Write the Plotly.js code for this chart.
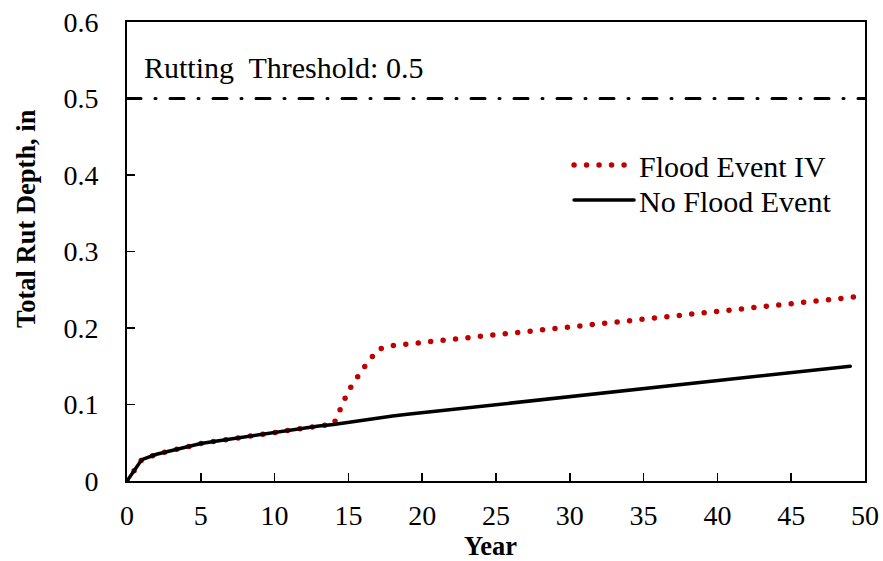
<!DOCTYPE html>
<html>
<head>
<meta charset="utf-8">
<script src="https://cdn.plot.ly/plotly-3.0.1.min.js"></script>
<style>
  html, body { margin: 0; padding: 0; background: #fff; }
  #chart { width: 883px; height: 561px; }
  .js-line { stroke-linecap: round !important; }
</style>
</head>
<body>
<div id="chart"></div>
<script>
// ---- Data ----
const floodYears = [0,1,2,3,4,5,6,7,8,9,10,11,12,13,14,15,16,17,18,19,20,21,22,23,24,25,26,27,28,29,30,31,32,33,34,35,36,37,38,39,40,41,42,43,44,45,46,47,48,49,50];
const floodDepth = [0,0.028,0.035,0.040,0.045,0.049,0.052,0.055,0.058,0.061,0.064,0.067,0.069,0.072,0.074,0.118,0.147,0.172,0.1770,0.1790,0.1811,0.1831,0.1851,0.1872,0.1892,0.1912,0.1932,0.1953,0.1973,0.1993,0.2014,0.2034,0.2054,0.2075,0.2095,0.2115,0.2135,0.2156,0.2176,0.2196,0.2217,0.2237,0.2257,0.2278,0.2298,0.2318,0.2338,0.2359,0.2379,0.2399,0.2420];

const noFloodYears = [0,1,2,3,4,5,6,7,8,9,10,11,12,13,14,15,16,17,18,19,20,21,22,23,24,25,26,27,28,29,30,31,32,33,34,35,36,37,38,39,40,41,42,43,44,45,46,47,48,49];
const noFloodDepth = [0,0.028,0.035,0.040,0.045,0.049,0.052,0.055,0.058,0.061,0.064,0.067,0.069,0.072,0.074,0.077,0.079,0.0830,0.0851,0.0872,0.0893,0.0914,0.0935,0.0956,0.0977,0.0998,0.1019,0.1040,0.1061,0.1082,0.1103,0.1124,0.1145,0.1166,0.1187,0.1208,0.1229,0.1250,0.1271,0.1292,0.1313,0.1334,0.1355,0.1376,0.1397,0.1418,0.1439,0.1460,0.1481,0.1500];

const thresholdYears = [0, 50];
const thresholdDepth = [0.5, 0.5];

const seriesNames = ["Flood Event IV", "No Flood Event"];
const thresholdLabel = "Rutting\u00a0 Threshold: 0.5";
const xTickVals = [0,5,10,15,20,25,30,35,40,45,50];
const xTickText = ["0","5","10","15","20","25","30","35","40","45","50"];
const yTickVals = [0,0.1,0.2,0.3,0.4,0.5,0.6];
const yTickText = ["0","0.1","0.2","0.3","0.4","0.5","0.6"];
const xTitle = "Year";
const yTitle = "Total Rut Depth, in";

const FONT = '"Liberation Serif", "Times New Roman", Times, serif';

const traces = [
  {
    x: floodYears, y: floodDepth, name: seriesNames[0], type: "scatter", mode: "lines",
    legend: "legend",
    line: { color: "#C00000", width: 5.5, dash: "0px,12.5px" }
  },
  {
    x: noFloodYears, y: noFloodDepth, name: seriesNames[1], type: "scatter", mode: "lines",
    legend: "legend2",
    line: { color: "#000000", width: 3.5 }
  },
  {
    x: thresholdYears, y: thresholdDepth, name: "Threshold", type: "scatter", mode: "lines",
    showlegend: false, hoverinfo: "skip",
    line: { color: "#000000", width: 3, dash: "14px,14px,1px,14px" }
  }
];

const legendCommon = {
  xanchor: "left", yanchor: "middle",
  bgcolor: "rgba(0,0,0,0)", borderwidth: 0,
  font: { family: FONT, size: 30, color: "#000" },
  itemwidth: 60
};

const layout = {
  width: 883, height: 561,
  margin: { l: 127, r: 18, t: 22, b: 80 },
  paper_bgcolor: "#fff", plot_bgcolor: "#fff",
  font: { family: FONT, size: 28, color: "#000" },
  showlegend: true,
  legend: Object.assign({}, legendCommon, { x: 0.599, y: 0.6885 }),
  legend2: Object.assign({}, legendCommon, { x: 0.599, y: 0.6122 }),
  xaxis: {
    range: [0, 50], tickmode: "array", tickvals: xTickVals, ticktext: xTickText,
    ticks: "inside", ticklen: 8, tickwidth: 1.5, tickcolor: "#000",
    showline: true, linecolor: "#000", linewidth: 2, mirror: true,
    showgrid: false, zeroline: false, ticklabelstandoff: 8,
    tickfont: { family: FONT, size: 28, color: "#000" }
  },
  yaxis: {
    range: [0, 0.6], tickmode: "array", tickvals: yTickVals, ticktext: yTickText,
    ticks: "inside", ticklen: 8, tickwidth: 1.5, tickcolor: "#000",
    showline: true, linecolor: "#000", linewidth: 2, mirror: true,
    showgrid: false, zeroline: false, ticklabelstandoff: 21,
    tickfont: { family: FONT, size: 28, color: "#000" }
  },
  annotations: [
    {
      x: 1.0, y: 0.54, xref: "x", yref: "y", xanchor: "left", yanchor: "middle",
      text: thresholdLabel, showarrow: false,
      font: { family: FONT, size: 30, color: "#000" }
    },
    {
      x: 0.493, y: -0.141, xref: "paper", yref: "paper", xanchor: "center", yanchor: "middle",
      text: "<b>" + xTitle + "</b>", showarrow: false,
      font: { family: FONT, size: 26.5, color: "#000" }
    },
    {
      x: -0.1369, y: 0.573, xref: "paper", yref: "paper", xanchor: "center", yanchor: "middle",
      text: "<b>" + yTitle + "</b>", showarrow: false, textangle: -90,
      font: { family: FONT, size: 26.5, color: "#000" }
    }
  ]
};

Plotly.newPlot("chart", traces, layout, { staticPlot: true, displayModeBar: false });
</script>
</body>
</html>
